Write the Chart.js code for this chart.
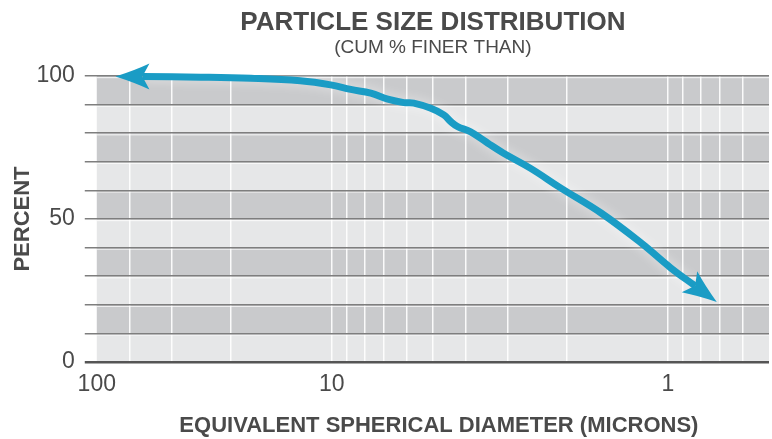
<!DOCTYPE html>
<html>
<head>
<meta charset="utf-8">
<script src="https://cdn.jsdelivr.net/npm/chart.js@4/dist/chart.umd.min.js"></script>
<style>
  html, body { margin: 0; padding: 0; background: #ffffff; }
  #wrap { width: 772px; height: 439px; }
</style>
</head>
<body>
<div id="wrap"><canvas id="c" width="772" height="439"></canvas></div>
<script>
// ---- data ----
const diameters = [44.0, 36.5, 24.5, 17.4, 12.4, 10.07, 8.78, 7.65, 6.81, 6.10, 5.70, 5.07, 4.64, 4.42, 4.22, 3.86, 3.60, 3.43, 3.08, 2.56, 2.08, 1.58, 1.20, 0.98, 0.829, 0.715];
const percentFiner = [99.8, 99.8, 99.6, 99.2, 98.3, 96.9, 95.3, 94.0, 91.9, 90.7, 90.5, 88.7, 86.4, 84.0, 82.3, 80.5, 78.2, 76.5, 73.0, 67.7, 60.8, 52.1, 41.6, 32.9, 26.6, 21.0];
const xGridValues = [50, 40, 30, 20, 10, 9, 8, 7, 6, 5, 4, 3, 2, 1, 0.9, 0.8, 0.7, 0.6, 0.5];
const xLabelValues = [50, 10, 1];
const xLabelTexts = ['100', '10', '1'];
const yLabelValues = [0, 50, 100];
const titleText = 'PARTICLE SIZE DISTRIBUTION';
const subtitleText = '(CUM % FINER THAN)';
const xTitleText = 'EQUIVALENT SPHERICAL DIAMETER (MICRONS)';
const yTitleText = 'PERCENT';

const FONT = "'Liberation Sans', Arial, Helvetica, sans-serif";
const TEXT = '#4a4a4a';
const LINE = '#1a9cc5';

const points = diameters.map((d, i) => ({ x: d, y: percentFiner[i] }));
const lastIdx = points.length - 1;

const bandsPlugin = {
  id: 'bands',
  beforeDraw(chart) {
    const { ctx, chartArea: a, scales: { y } } = chart;
    ctx.save();
    for (let v = 0; v < 100; v += 10) {
      const top = y.getPixelForValue(v + 10), bot = y.getPixelForValue(v);
      ctx.fillStyle = (v / 10) % 2 === 1 ? '#c9cacc' : '#e6e7e8';
      ctx.fillRect(a.left, top, a.right - a.left, bot - top);
      ctx.fillStyle = 'rgba(255,255,255,0.7)';
      ctx.fillRect(a.left, top + 1, a.right - a.left, 1.2);
    }
    ctx.restore();
  }
};

// titles placed as in the reference
const headingPlugin = {
  id: 'heading',
  afterDraw(chart) {
    const { ctx, chartArea: a } = chart;
    const cx = (a.left + a.right) / 2;
    ctx.save();
    ctx.fillStyle = TEXT;
    ctx.textAlign = 'center';
    ctx.textBaseline = 'alphabetic';
    ctx.font = 'bold 26px ' + FONT;
    ctx.fillText(titleText, cx, 29.5);
    ctx.font = '19px ' + FONT;
    ctx.fillText(subtitleText, cx, 53);
    ctx.font = 'bold 22px ' + FONT;
    ctx.fillText(xTitleText, cx + 6, 432);
    ctx.restore();
  }
};

const glowPlugin = {
  id: 'glow',
  beforeDatasetDraw(chart) {
    chart.ctx.shadowColor = 'rgba(255,255,255,0.55)';
    chart.ctx.shadowBlur = 12;
  },
  afterDatasetDraw(chart) {
    chart.ctx.shadowColor = 'rgba(0,0,0,0)';
    chart.ctx.shadowBlur = 0;
  }
};

const arrowPlugin = {
  id: 'arrows',
  afterDatasetsDraw(chart) {
    const pts = chart.getDatasetMeta(0).data;
    const { ctx } = chart;
    const heads = [[pts[0], pts[1]], [pts[pts.length - 1], pts[pts.length - 2]]];
    const L = 34, W = 13, N = 27;
    ctx.save();
    ctx.fillStyle = LINE;
    heads.forEach(([tip, base]) => {
      const dx = tip.x - base.x, dy = tip.y - base.y;
      const len = Math.hypot(dx, dy) || 1;
      const ux = dx / len, uy = dy / len;
      const nx = -uy, ny = ux;
      ctx.beginPath();
      ctx.moveTo(tip.x, tip.y);
      ctx.quadraticCurveTo(tip.x - ux * L * 0.55 + nx * W * 0.45, tip.y - uy * L * 0.55 + ny * W * 0.45,
                           tip.x - ux * L + nx * W, tip.y - uy * L + ny * W);
      ctx.lineTo(tip.x - ux * N, tip.y - uy * N);
      ctx.lineTo(tip.x - ux * L - nx * W, tip.y - uy * L - ny * W);
      ctx.quadraticCurveTo(tip.x - ux * L * 0.55 - nx * W * 0.45, tip.y - uy * L * 0.55 - ny * W * 0.45,
                           tip.x, tip.y);
      ctx.closePath();
      ctx.fill();
    });
    ctx.restore();
  }
};

new Chart(document.getElementById('c'), {
  type: 'line',
  data: {
    datasets: [{
      data: points,
      borderColor: LINE,
      borderWidth: 7,
      borderCapStyle: 'butt',
      borderJoinStyle: 'round',
      pointRadius: 0,
      pointHoverRadius: 0,
      tension: 0.4,
      fill: false,
      clip: false,
      segment: {
        borderColor: c => (c.p0DataIndex === 0 || c.p1DataIndex === lastIdx) ? 'rgba(0,0,0,0)' : LINE
      }
    }]
  },
  options: {
    responsive: false,
    animation: false,
    devicePixelRatio: 1,
    layout: { padding: { left: 0, right: 3, top: 76, bottom: 40.4 } },
    plugins: {
      legend: { display: false },
      tooltip: { enabled: false },
      title: { display: false },
      subtitle: { display: false }
    },
    scales: {
      x: {
        type: 'logarithmic',
        reverse: true,
        min: 0.5,
        max: 50,
        afterBuildTicks: scale => { scale.ticks = xGridValues.map(v => ({ value: v })); },
        ticks: {
          autoSkip: false,
          maxRotation: 0,
          padding: 0,
          color: TEXT,
          font: { family: FONT, size: 23 },
          callback: v => {
            const i = xLabelValues.indexOf(v);
            return i >= 0 ? xLabelTexts[i] : '';
          }
        },
        grid: {
          drawTicks: true,
          tickLength: 9,
          tickColor: 'rgba(0,0,0,0)',
          color: c => (c.tick && (c.tick.value === 50 || c.tick.value === 0.5)) ? 'rgba(0,0,0,0)' : 'rgba(255,255,255,0.9)',
          lineWidth: 1.5
        },
        border: { display: false },
        title: { display: false }
      },
      y: {
        min: 0,
        max: 100,
        ticks: {
          stepSize: 10,
          autoSkip: false,
          padding: 10,
          color: TEXT,
          font: { family: FONT, size: 23 },
          callback: v => yLabelValues.includes(v) ? String(v) : ''
        },
        grid: {
          tickLength: 12,
          color: c => c.tick && c.tick.value === 0 ? '#555555' : '#7e7e7e',
          lineWidth: c => c.tick && c.tick.value === 0 ? 2.5 : 1.5
        },
        border: { display: false },
        title: {
          display: true,
          text: yTitleText,
          color: TEXT,
          font: { family: FONT, size: 22, weight: 'bold', lineHeight: 1.2 },
          padding: { top: 10, bottom: -10 }
        }
      }
    }
  },
  plugins: [bandsPlugin, glowPlugin, arrowPlugin, headingPlugin]
});
</script>
</body>
</html>
